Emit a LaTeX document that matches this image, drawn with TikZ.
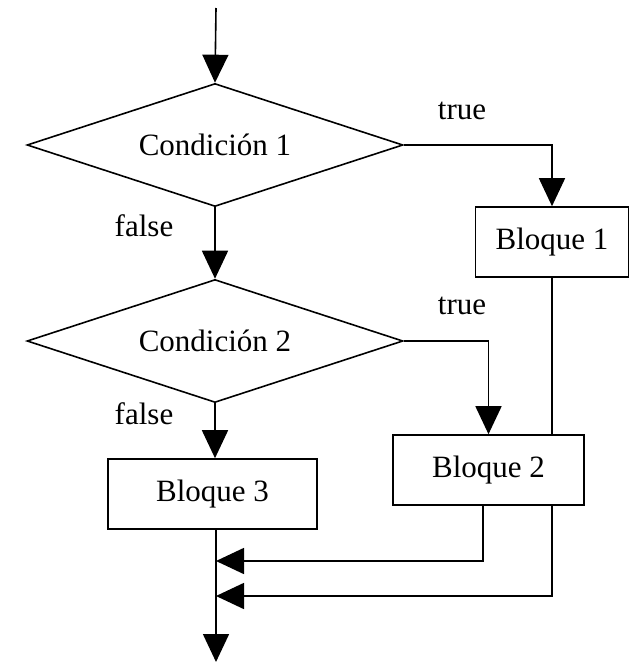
\documentclass[tikz,border=0pt]{standalone}
\usepackage{fontspec}
\setmainfont{Liberation Serif}
\usetikzlibrary{arrows.meta,shapes.geometric}
\begin{document}
\begin{tikzpicture}[x=1pt,y=-1pt,
  line width=1.6pt,
  every node/.style={font=\fontsize{31}{36}\selectfont},
  flow/.style={-{Triangle[length=28pt,width=26pt]}},
  plain/.style={},
  decision/.style={draw,shape=diamond,inner sep=0pt,minimum width=376pt,minimum height=123pt,aspect=3.06},
  block/.style={draw,fill=white,rectangle,inner sep=0pt},
  lbl/.style={inner sep=0pt}]
\useasboundingbox (0,0) rectangle (630,662);
\coordinate (start) at (216,8);
\node[decision] (d1) at (215,145) {Condición 1};
\node[decision] (d2) at (215,341) {Condición 2};
\node[block,minimum width=153pt,minimum height=70pt] (b1) at (552,242) {Bloque 1};
\node[block,minimum width=191pt,minimum height=70pt] (b2) at (488.5,470) {Bloque 2};
\node[block,minimum width=209pt,minimum height=70pt] (b3) at (212.5,494) {Bloque 3};
\node[lbl] (t1) at (462,111) {true};
\node[lbl] (t2) at (462,306) {true};
\node[lbl] (f1) at (144,226) {false};
\node[lbl] (f2) at (144,414) {false};
\coordinate (m1) at (216,561);
\coordinate (m2) at (216,596);
\coordinate (end) at (216,662);
\draw[flow] (start) -- (d1.north);
\draw[flow] (d1.east) -| (b1.north);
\draw[flow] (d1.south) -- (d2.north);
\draw[flow] (d2.east) -| (b2.north);
\draw[flow] (d2.south) -- (b3.north -| d2.south);
\draw (b1.south) -- (b1.south |- b2.north);
\draw[flow] (b1.south |- b2.south) |- (m2);
\draw[flow] ([xshift=-5.5pt]b2.south) |- (m1);
\draw[flow] (b3.south -| m1) -- (end);
\end{tikzpicture}
\end{document}
